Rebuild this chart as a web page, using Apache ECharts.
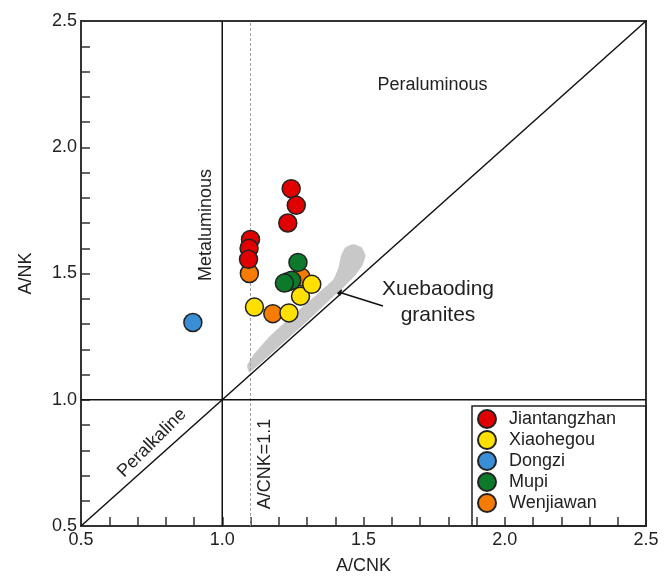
<!DOCTYPE html>
<html><head><meta charset="utf-8">
<script src="https://cdn.jsdelivr.net/npm/echarts@6/dist/echarts.min.js"></script>
<style>html,body{margin:0;padding:0;background:#fff}#c{width:672px;height:577px}</style>
</head><body><div id="c"></div>
<script>
// ---- data ----
const legendNames = ['Jiantangzhan', 'Xiaohegou', 'Dongzi', 'Mupi', 'Wenjiawan'];
const jiantangzhan = [[1.244,1.836],[1.262,1.770],[1.232,1.700],[1.100,1.635],[1.095,1.600],[1.093,1.556]];
const xiaohegou = [[1.114,1.367],[1.236,1.344],[1.277,1.410],[1.317,1.457]];
const dongzi = [[0.896,1.306]];
const mupi = [[1.268,1.544],[1.232,1.467],[1.246,1.473],[1.220,1.462]];
const wenjiawan = [[1.096,1.500],[1.179,1.341],[1.279,1.486]];
// Xuebaoding granites field outline (A/CNK, A/NK)
const xuebaodingField = [
  [1.0965,1.1087],[1.1673,1.1760],[1.2381,1.2473],[1.3088,1.3186],[1.3796,1.3939],[1.4327,1.4493],
  [1.4681,1.4889],[1.4965,1.5325],[1.5071,1.5721],[1.4929,1.6038],[1.4646,1.6156],[1.4363,1.6038],
  [1.4200,1.5681],[1.4120,1.5250],[1.3930,1.4760],[1.3480,1.4300],[1.3050,1.3880],[1.2350,1.3200],
  [1.1650,1.2480],[1.1120,1.1800],[1.0880,1.1350]
];
// reference lines
const diagonalLine = [[0.5,0.5],[2.5,2.5]];
const metaluminousLine = [[1.0,0.5],[1.0,2.5]];
const peralkalineLine = [[0.5,1.0],[2.5,1.0]];
const acnk11Line = [[1.1,0.5],[1.1,2.5]];
const axisMin = 0.5, axisMax = 2.5, axisStep = 0.5;

const colors = {Jiantangzhan:'#e00000', Xiaohegou:'#ffe000', Dongzi:'#3a8ed6', Mupi:'#0c7a2a', Wenjiawan:'#f57c00'};
const FONT = '"Liberation Sans", Arial, sans-serif';
const TXT = '#222';

const chart = echarts.init(document.getElementById('c'));

function axisCommon() {
  return {
    type: 'value', min: axisMin, max: axisMax, interval: axisStep,
    axisLine: {show: true, onZero: false, lineStyle: {color: '#333', width: 2}},
    axisTick: {show: true, inside: true, length: 9, lineStyle: {color: '#333', width: 1.5}},
    minorTick: {show: true, splitNumber: 5, length: 9, lineStyle: {color: '#333', width: 1.5}},
    splitLine: {show: false}, minorSplitLine: {show: false},
    axisLabel: {fontSize: 18, fontFamily: FONT, color: TXT, formatter: v => v.toFixed(1)},
    nameTextStyle: {fontSize: 18, fontFamily: FONT, color: TXT}
  };
}

function refLine(data, style) {
  return {type: 'line', data: data, showSymbol: false, symbol: 'none', silent: true, z: 2,
    lineStyle: style, animation: false};
}

function scatter(name, data) {
  return {type: 'scatter', name: name, data: data, symbol: 'circle', symbolSize: 18, z: 5,
    itemStyle: {color: colors[name], borderColor: '#222', borderWidth: 1.5, opacity: 1}, animation: false};
}

const xAxis = Object.assign(axisCommon(), {
  name: 'A/CNK', nameLocation: 'middle', nameGap: 31
});
xAxis.axisLabel = Object.assign({}, xAxis.axisLabel, {margin: 5});
const yAxis = Object.assign(axisCommon(), {
  name: 'A/NK', nameLocation: 'middle', nameGap: 46
});
yAxis.axisLabel = Object.assign({}, yAxis.axisLabel, {margin: 4});

const option = {
  backgroundColor: '#fff',
  animation: false,
  grid: {left: 81, right: 26, top: 21, bottom: 51, show: true, borderColor: '#333', borderWidth: 2,
    backgroundColor: 'transparent', containLabel: false, outerBoundsMode: 'none'},
  xAxis: xAxis,
  yAxis: yAxis,
  legend: {
    data: legendNames, orient: 'vertical', left: 472, top: 406,
    padding: [3, 30, 13, 5], itemWidth: 34, itemHeight: 18, itemGap: 1, icon: 'circle',
    borderColor: '#222', borderWidth: 1.5, backgroundColor: 'transparent',
    textStyle: {fontSize: 18, fontFamily: FONT, color: TXT}, selectedMode: false
  },
  series: [
    {
      type: 'custom', name: 'Xuebaoding granites', silent: true, z: 1, clip: true,
      data: xuebaodingField,
      renderItem: function (params, api) {
        if (params.dataIndex !== 0) return null;
        const pts = xuebaodingField.map(p => api.coord(p));
        return {type: 'polygon', shape: {points: pts, smooth: 0.15}, style: {fill: '#c8c8c8', stroke: null}};
      }
    },
    refLine(acnk11Line, {color: '#a0a0a0', width: 1, type: [3, 2]}),
    refLine(diagonalLine, {color: '#111', width: 1.5}),
    refLine(metaluminousLine, {color: '#111', width: 1.5}),
    refLine(peralkalineLine, {color: '#111', width: 1.5}),
    scatter('Wenjiawan', wenjiawan),
    scatter('Jiantangzhan', jiantangzhan),
    scatter('Xiaohegou', xiaohegou),
    scatter('Dongzi', dongzi),
    scatter('Mupi', mupi)
  ],
  graphic: [
    {type: 'text', x: 432.5, y: 85, style: {text: 'Peraluminous', font: '18px ' + FONT, fill: TXT, align: 'center', verticalAlign: 'middle'}},
    {type: 'text', x: 206, y: 225, rotation: Math.PI / 2, style: {text: 'Metaluminous', font: '18px ' + FONT, fill: TXT, align: 'center', verticalAlign: 'middle'}},
    {type: 'text', x: 152, y: 443, rotation: Math.PI / 4, style: {text: 'Peralkaline', font: '18px ' + FONT, fill: TXT, align: 'center', verticalAlign: 'middle'}},
    {type: 'text', x: 265.5, y: 464, rotation: Math.PI / 2, style: {text: 'A/CNK=1.1', font: '18px ' + FONT, fill: TXT, align: 'center', verticalAlign: 'middle'}},
    {type: 'text', x: 438, y: 289, style: {text: 'Xuebaoding', font: '21px ' + FONT, fill: TXT, align: 'center', verticalAlign: 'middle'}},
    {type: 'text', x: 438, y: 315, style: {text: 'granites', font: '21px ' + FONT, fill: TXT, align: 'center', verticalAlign: 'middle'}},
    {type: 'line', shape: {x1: 383, y1: 306, x2: 340, y2: 292.5}, style: {stroke: '#111', lineWidth: 1.5}},
    {type: 'polygon', shape: {points: [[332.7, 290], [342.3, 289.4], [340.2, 296]]}, style: {fill: '#111'}}
  ]
};
chart.setOption(option);
</script>
</body></html>
